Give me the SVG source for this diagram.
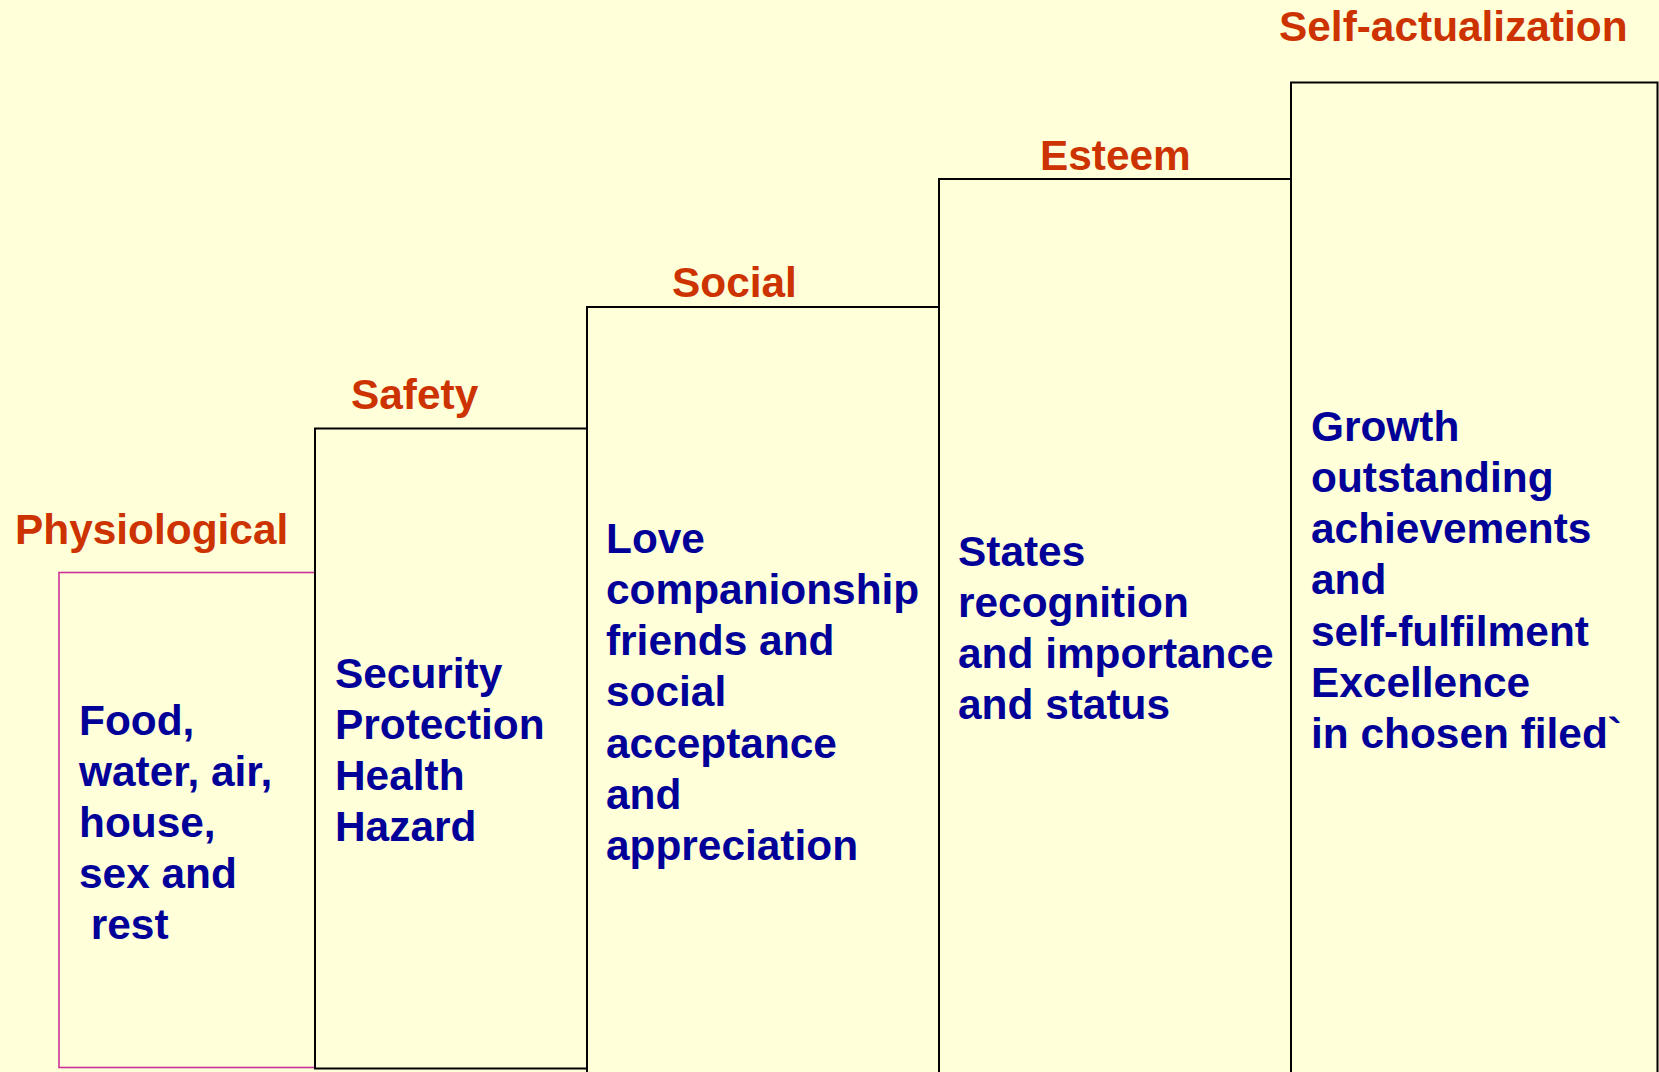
<svg xmlns="http://www.w3.org/2000/svg" width="1659" height="1072" viewBox="0 0 1659 1072">
<style>
.bg{fill:#FFFFD9}
.box{fill:none;stroke:#000;stroke-width:2}
.pbox{fill:none;stroke:#CC3399;stroke-width:1.6}
.lbl{font-family:"Liberation Sans",Arial,sans-serif;font-weight:bold;font-size:42.4px;fill:#CC3300}
.txt{font-family:"Liberation Sans",Arial,sans-serif;font-weight:bold;font-size:42.4px;fill:#000099}
</style>
<rect class="bg" x="0" y="0" width="1659" height="1072"/>
<g id="physiological">
<rect class="pbox" x="59" y="572.5" width="256" height="495"/>
<text class="lbl" x="15" y="544">Physiological</text>
<text class="txt" x="79" y="735">Food,</text>
<text class="txt" x="79" y="786">water, air,</text>
<text class="txt" x="79" y="837">house,</text>
<text class="txt" x="79" y="888">sex and</text>
<text class="txt" x="79" y="939" xml:space="preserve"> rest</text>
</g>
<g id="safety">
<rect class="box" x="315" y="428.5" width="272" height="640"/>
<text class="lbl" x="351" y="409">Safety</text>
<text class="txt" x="335" y="688">Security</text>
<text class="txt" x="335" y="739">Protection</text>
<text class="txt" x="335" y="790">Health</text>
<text class="txt" x="335" y="841">Hazard</text>
</g>
<g id="social">
<path class="box" d="M587,1080 V307 H939 V1080"/>
<text class="lbl" x="672" y="297">Social</text>
<text class="txt" x="606" y="553">Love</text>
<text class="txt" x="606" y="604">companionship</text>
<text class="txt" x="606" y="655">friends and</text>
<text class="txt" x="606" y="706">social</text>
<text class="txt" x="606" y="758">acceptance</text>
<text class="txt" x="606" y="809">and</text>
<text class="txt" x="606" y="860">appreciation</text>
</g>
<g id="esteem">
<path class="box" d="M939,1080 V179 H1291 V1080"/>
<text class="lbl" x="1040" y="170">Esteem</text>
<text class="txt" x="958" y="566">States</text>
<text class="txt" x="958" y="617">recognition</text>
<text class="txt" x="958" y="668">and importance</text>
<text class="txt" x="958" y="719">and status</text>
</g>
<g id="self-actualization">
<path class="box" d="M1291,1080 V82.5 H1657.5 V1080"/>
<text class="lbl" x="1279" y="41">Self-actualization</text>
<text class="txt" x="1311" y="441">Growth</text>
<text class="txt" x="1311" y="492">outstanding</text>
<text class="txt" x="1311" y="543">achievements</text>
<text class="txt" x="1311" y="594">and</text>
<text class="txt" x="1311" y="646">self-fulfilment</text>
<text class="txt" x="1311" y="697">Excellence</text>
<text class="txt" x="1311" y="748">in chosen filed`</text>
</g>
<g id="connectors"/>
</svg>
